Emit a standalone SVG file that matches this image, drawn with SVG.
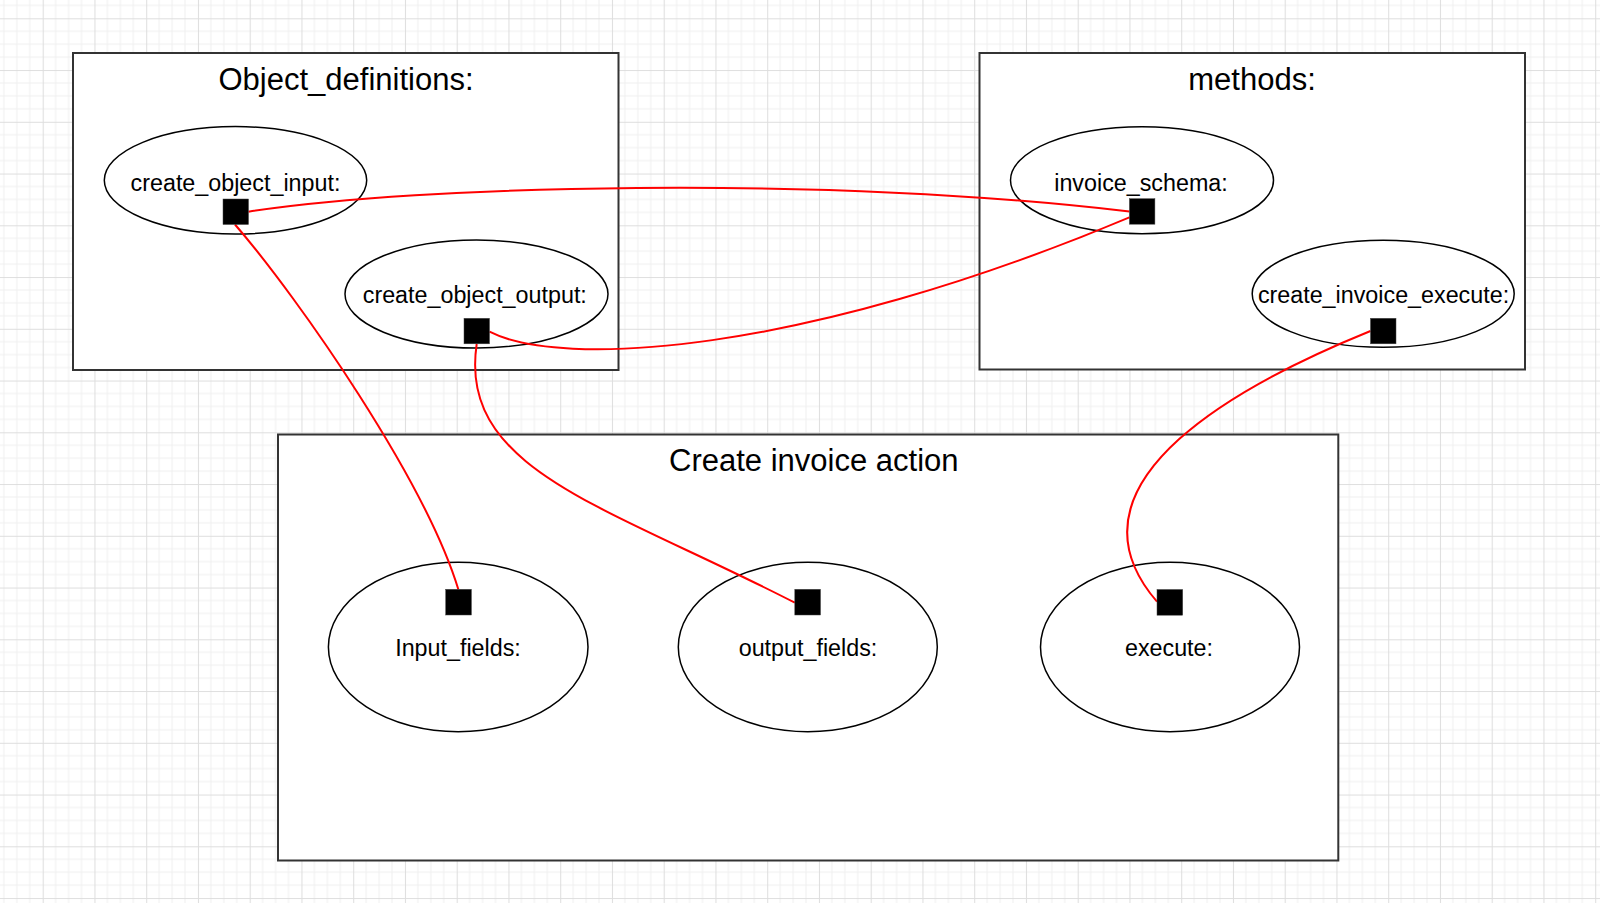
<svg xmlns="http://www.w3.org/2000/svg" width="1600" height="903" viewBox="0 0 1600 903">
<defs>
<pattern id="grid" patternUnits="userSpaceOnUse" x="-9.05" y="18.3" width="51.75" height="51.75">
<rect width="51.75" height="51.75" fill="#ffffff"/>
<path d="M12.94 0V51.75M25.875 0V51.75M38.81 0V51.75M0 12.94H51.75M0 25.875H51.75M0 38.81H51.75" stroke="#f0f0f0" stroke-width="1" fill="none"/>
<path d="M0.5 0V51.75M0 0.5H51.75" stroke="#dedede" stroke-width="1" fill="none"/>
</pattern>
<style>
.box{fill:#ffffff;stroke:#333333;stroke-width:2}
.ell{fill:#ffffff;stroke:#000000;stroke-width:1.5}
.title{font-family:"Liberation Sans",Arial,sans-serif;font-size:31px;fill:#000000;text-anchor:middle}
.lbl{font-family:"Liberation Sans",Arial,sans-serif;font-size:23.3px;fill:#000000;text-anchor:middle}
.port{fill:#000000;stroke:#444444;stroke-width:0.5}
.wire{fill:none;stroke:#ff0000;stroke-width:2}
</style>
</defs>
<rect x="0" y="0" width="1600" height="903" fill="url(#grid)"/>

<g id="object_definitions">
<rect class="box" x="73" y="53" width="545.5" height="317"/>
<text class="title" x="346" y="89.5">Object_definitions:</text>
</g>
<g id="methods">
<rect class="box" x="979.5" y="53" width="545.5" height="316.5"/>
<text class="title" x="1252" y="89.5">methods:</text>
</g>
<g id="create_invoice_action">
<rect class="box" x="278" y="434.5" width="1060.3" height="426"/>
<text class="title" x="813.8" y="471">Create invoice action</text>
</g>

<g id="create_object_input">
<ellipse class="ell" cx="235.5" cy="180.3" rx="131.2" ry="53.7"/>
<text class="lbl" x="235.5" y="190.7">create_object_input:</text>
</g>
<g id="create_object_output">
<ellipse class="ell" cx="476.5" cy="294" rx="131.5" ry="54"/>
<text class="lbl" x="474.8" y="302.8">create_object_output:</text>
</g>
<g id="invoice_schema">
<ellipse class="ell" cx="1142" cy="180.2" rx="131.5" ry="53.5"/>
<text class="lbl" x="1141" y="190.7">invoice_schema:</text>
</g>
<g id="create_invoice_execute">
<ellipse class="ell" cx="1383.2" cy="293.8" rx="131" ry="53.5"/>
<text class="lbl" x="1383.5" y="303">create_invoice_execute:</text>
</g>
<g id="input_fields">
<ellipse class="ell" cx="458.2" cy="647" rx="129.8" ry="84.7"/>
<text class="lbl" x="458" y="655.7">Input_fields:</text>
</g>
<g id="output_fields">
<ellipse class="ell" cx="807.8" cy="647" rx="129.5" ry="84.7"/>
<text class="lbl" x="808" y="655.7">output_fields:</text>
</g>
<g id="execute">
<ellipse class="ell" cx="1170" cy="647" rx="129.5" ry="84.7"/>
<text class="lbl" x="1169" y="655.7">execute:</text>
</g>

<g id="connectors">
<path class="wire" d="M248.5 211.7C420 185 820 175 1129.4 211.5"/>
<path class="wire" d="M489.5 331.7C560 368 800 356 1129.4 217.3"/>
<path class="wire" d="M235 224.5C300 300 425 480 458.3 589.3"/>
<path class="wire" d="M476.7 344C458 470 605 505 794.8 602.7"/>
<path class="wire" d="M1370.5 331C1250 380 1052 480 1157 601.7"/>
</g>

<g id="ports">
<rect class="port" x="223" y="199" width="25.5" height="25.5"/>
<rect class="port" x="464" y="318.3" width="25.5" height="25.5"/>
<rect class="port" x="1129.4" y="198.7" width="25.5" height="25.5"/>
<rect class="port" x="1370.5" y="318.3" width="25.5" height="25.5"/>
<rect class="port" x="445.7" y="589.3" width="25.7" height="25.7"/>
<rect class="port" x="794.8" y="589.3" width="25.7" height="25.7"/>
<rect class="port" x="1157" y="589.5" width="25.7" height="25.7"/>
</g>
</svg>
